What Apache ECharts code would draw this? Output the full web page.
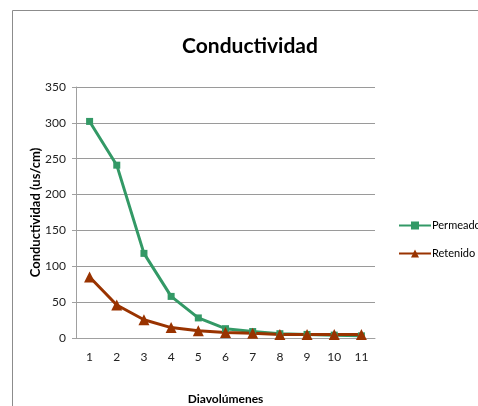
<!DOCTYPE html>
<html><head><meta charset="utf-8">
<script src="https://cdn.jsdelivr.net/npm/echarts@6/dist/echarts.min.js"></script>
<style>html,body{margin:0;padding:0;background:#fff}#c{width:478px;height:406px}</style>
</head><body><div id="c"></div>
<script>
const categories = ['1','2','3','4','5','6','7','8','9','10','11'];
const permeado = [302, 241, 118, 58, 28, 13, 9, 6, 5, 4, 3];
const retenido = [85, 46, 25.5, 14.5, 10, 7.5, 6.5, 5, 5, 5, 5];
const seriesNames = ['Permeado', 'Retenido'];
const titleText = 'Conductividad';
const yName = 'Conductividad (us/cm)';
const xName = 'Diavolúmenes';

const FONT = 'Lato';
const chart = echarts.init(document.getElementById('c'), null, {renderer: 'canvas'});
chart.setOption({
  animation: false,
  textStyle: {fontFamily: FONT},
  graphic: [{type: 'rect', shape: {x: 12.5, y: 10.5, width: 600, height: 600}, style: {fill: 'none', stroke: '#8c8c8c', lineWidth: 1}, z: -1}],
  title: {text: titleText, left: 245, top: 31, textAlign: 'center',
    textStyle: {fontFamily: FONT, fontSize: 21, fontWeight: 'bold', color: '#000'}},
  legend: {orient: 'vertical', left: 393, top: 215, itemGap: 17, itemWidth: 32, itemHeight: 10,
    textStyle: {fontFamily: FONT, fontSize: 11, color: '#000', padding: [0,0,0,-4]},
    data: [seriesNames[0], seriesNames[1]]},
  grid: {left: 76, top: 87, width: 299, height: 251, containLabel: false, outerBoundsMode: 'none'},
  xAxis: {type: 'category', data: categories, boundaryGap: true,
    name: xName, nameLocation: 'middle', nameGap: 55, nameMoveOverlap: false,
    nameTextStyle: {fontFamily: FONT, fontSize: 12, fontWeight: 'bold', color: '#000'},
    axisLine: {lineStyle: {color: '#a0a0a0'}}, axisTick: {show: false},
    axisLabel: {fontFamily: FONT, fontSize: 12, color: '#222', margin: 13}},
  yAxis: {type: 'value', min: 0, max: 350, interval: 50,
    name: yName, nameLocation: 'middle', nameGap: 34, nameRotate: 90, nameMoveOverlap: false,
    nameTextStyle: {fontFamily: FONT, fontSize: 13, fontWeight: 'bold', color: '#000'},
    axisLine: {show: true, lineStyle: {color: '#a0a0a0'}},
    axisTick: {show: true, length: 4, lineStyle: {color: '#a0a0a0'}},
    splitLine: {lineStyle: {color: '#9a9a9a'}},
    axisLabel: {fontFamily: FONT, fontSize: 12, color: '#222', margin: 10}},
  series: [
    {name: seriesNames[0], type: 'line', data: permeado, symbol: 'rect', symbolSize: 7,
     lineStyle: {color: '#339966', width: 3}, itemStyle: {color: '#339966'}},
    {name: seriesNames[1], type: 'line', data: retenido, symbol: 'triangle', symbolSize: 11,
     lineStyle: {color: '#993300', width: 3}, itemStyle: {color: '#993300'}}
  ]
});
</script></body></html>
